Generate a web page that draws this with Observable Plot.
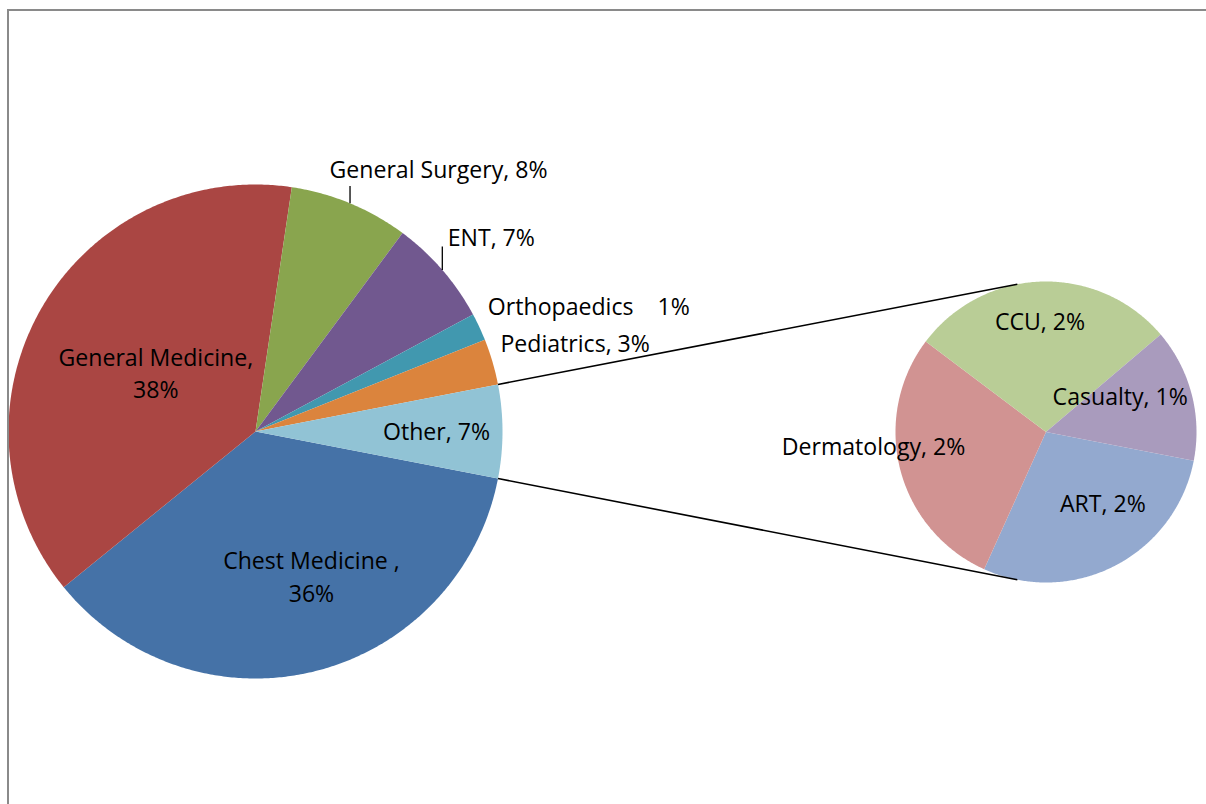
<!DOCTYPE html>
<html><head><meta charset="utf-8">
<script src="https://cdn.jsdelivr.net/npm/d3@7"></script>
<script src="https://cdn.jsdelivr.net/npm/@observablehq/plot@0.6"></script>
<style>
html,body{margin:0;padding:0;background:#fff;}
#wrap{position:relative;width:1206px;height:804px;overflow:hidden;}
#wrap svg{position:absolute;left:0;top:0;}
#frame{position:absolute;left:7px;top:9px;width:1300px;height:900px;border-left:2px solid #8a8a8a;border-top:2px solid #8a8a8a;pointer-events:none;}
</style></head><body><div id="wrap"></div>
<script>
// ---- data (clockwise order as drawn) ----
const mainCategories = ["Chest Medicine", "General Medicine", "General Surgery", "ENT", "Orthopaedics", "Pediatrics", "Other"];
const mainValues     = [36.1, 38.2, 7.8, 7.0, 1.8, 3.0, 6.1];
const mainLabels     = ["Chest Medicine ,\n36%", "General Medicine,\n38%", "General Surgery, 8%", "ENT, 7%", "Orthopaedics\u00a0\u00a0\u00a0\u00a01%", "Pediatrics, 3%", "Other, 7%"];
const mainColors     = ["#4572A7", "#AA4643", "#89A54E", "#71588F", "#4198AF", "#DB843D", "#91C3D5"];

const otherCategories = ["ART", "Dermatology", "CCU", "Casualty"];
const otherValues     = [1.75, 1.74, 1.74, 0.87];
const otherLabels     = ["ART, 2%", "Dermatology, 2%", "CCU, 2%", "Casualty, 1%"];
const otherColors     = ["#93A9CF", "#D19392", "#B9CD96", "#A99BBD"];

// ---- layout ----
const W = 1206, H = 804;
const mainGeom = {cx: 255, cy: 431, r: 247};
const subGeom  = {cx: 1045.5, cy: 431.5, r: 150.5};
const FS = 23.1, LH = 1.41, FONT = "'Open Sans', Lato, sans-serif";
const SHIFT = -3.8;
// label placement: radial fraction + nudge; leader = draw a leader line ending that far below label
const labelLayout = {
  "Chest Medicine":   {rf: 0.64, dx: 17.6, dy: -6.2},
  "General Medicine": {rf: 0.45, dx: -3.1, dy: -1.2},
  "General Surgery":  {rf: 1.0,  dx: 88.5, dy: -31.8, leader: 18.2},
  "ENT":              {rf: 1.0,  dx: 49,   dy: -30.1, leader: 10.5},
  "Orthopaedics":     {rf: 1.0,  dx: 109.5, dy: -18.8},
  "Pediatrics":       {rf: 1.0,  dx: 82.7, dy: -16.9},
  "Other":            {rf: 0.75, dx: -4.3, dy: 1.7},
  "ART":              {rf: 0.6,  dx: 15.4, dy: -7.3},
  "Dermatology":      {rf: 1.0,  dx: -26.7, dy: -21.2},
  "CCU":              {rf: 0.6,  dx: -3.3, dy: -18.5},
  "Casualty":         {rf: 0.6,  dx: -13.1, dy: -10.9}
};

const polar = (g, a, r) => [g.cx + r * Math.sin(a), g.cy - r * Math.cos(a)];

// main pie: the "Other" slice is centred at 3 o'clock
const otherIdx = mainCategories.indexOf("Other");
const total = d3.sum(mainValues);
const otherMidFrac = (d3.sum(mainValues.slice(0, otherIdx)) + mainValues[otherIdx] / 2) / total;
const mainStart = Math.PI / 2 - otherMidFrac * 2 * Math.PI;
const mainArcs = d3.pie().sort(null).startAngle(mainStart).endAngle(mainStart + 2 * Math.PI)(mainValues);
const half = (mainArcs[otherIdx].endAngle - mainArcs[otherIdx].startAngle) / 2;
const subStart = Math.PI / 2 + half;
const subArcs = d3.pie().sort(null).startAngle(subStart).endAngle(subStart + 2 * Math.PI)(otherValues);

const slices = [], labels = [], leaders = [];
function addPie(g, arcs, cats, labs) {
  arcs.forEach((arc, i) => {
    const name = cats[i];
    slices.push({x: g.cx, y: g.cy, name});
    const n = Math.max(2, Math.ceil((arc.endAngle - arc.startAngle) / (Math.PI / 360)));
    for (let k = 0; k <= n; k++) {
      const a = arc.startAngle + (arc.endAngle - arc.startAngle) * k / n;
      const [x, y] = polar(g, a, g.r);
      slices.push({x, y, name});
    }
    const mid = (arc.startAngle + arc.endAngle) / 2;
    const L = labelLayout[name];
    const [px, py] = polar(g, mid, L.rf * g.r);
    const lx = px + L.dx, ly = py + L.dy + SHIFT;
    labels.push({x: lx, y: ly, text: labs[i]});
    if (L.leader != null) {
      const [ax, ay] = polar(g, mid, g.r);
      leaders.push({x1: ax, y1: ay, x2: ax, y2: ly + L.leader});
    }
  });
}
addPie(mainGeom, mainArcs, mainCategories, mainLabels);
addPie(subGeom, subArcs, otherCategories, otherLabels);

// connector lines from the "Other" slice edges to the secondary pie
const oArc = mainArcs[otherIdx];
const [t1x, t1y] = polar(mainGeom, oArc.startAngle, mainGeom.r);
const [b1x, b1y] = polar(mainGeom, oArc.endAngle, mainGeom.r);
const [t2x, t2y] = polar(subGeom, -half, subGeom.r);
const [b2x, b2y] = polar(subGeom, Math.PI + half, subGeom.r);
const connectors = [
  {x1: t1x, y1: t1y, x2: t2x, y2: t2y},
  {x1: b1x, y1: b1y, x2: b2x, y2: b2y}
];

const chart = Plot.plot({
  width: W, height: H, margin: 0,
  x: {domain: [0, W], range: [0, W], axis: null},
  y: {domain: [0, H], range: [0, H], axis: null},
  color: {domain: mainCategories.concat(otherCategories), range: mainColors.concat(otherColors)},
  style: {background: "transparent", fontFamily: FONT},
  marks: [
    Plot.line(slices, {x: "x", y: "y", z: "name", fill: "name", stroke: "none", curve: "linear-closed"}),
    Plot.link(connectors, {x1: "x1", y1: "y1", x2: "x2", y2: "y2", stroke: "#000", strokeWidth: 1.6}),
    Plot.link(leaders, {x1: "x1", y1: "y1", x2: "x2", y2: "y2", stroke: "#000", strokeWidth: 1.3}),
    Plot.text(labels, {x: "x", y: "y", text: "text", fontSize: FS, fontFamily: FONT, lineHeight: LH, fill: "#000", textAnchor: "middle"})
  ]
});
const wrap = document.getElementById("wrap");
wrap.appendChild(chart);
const frame = document.createElement("div");
frame.id = "frame";
wrap.appendChild(frame);
</script>
</body></html>
